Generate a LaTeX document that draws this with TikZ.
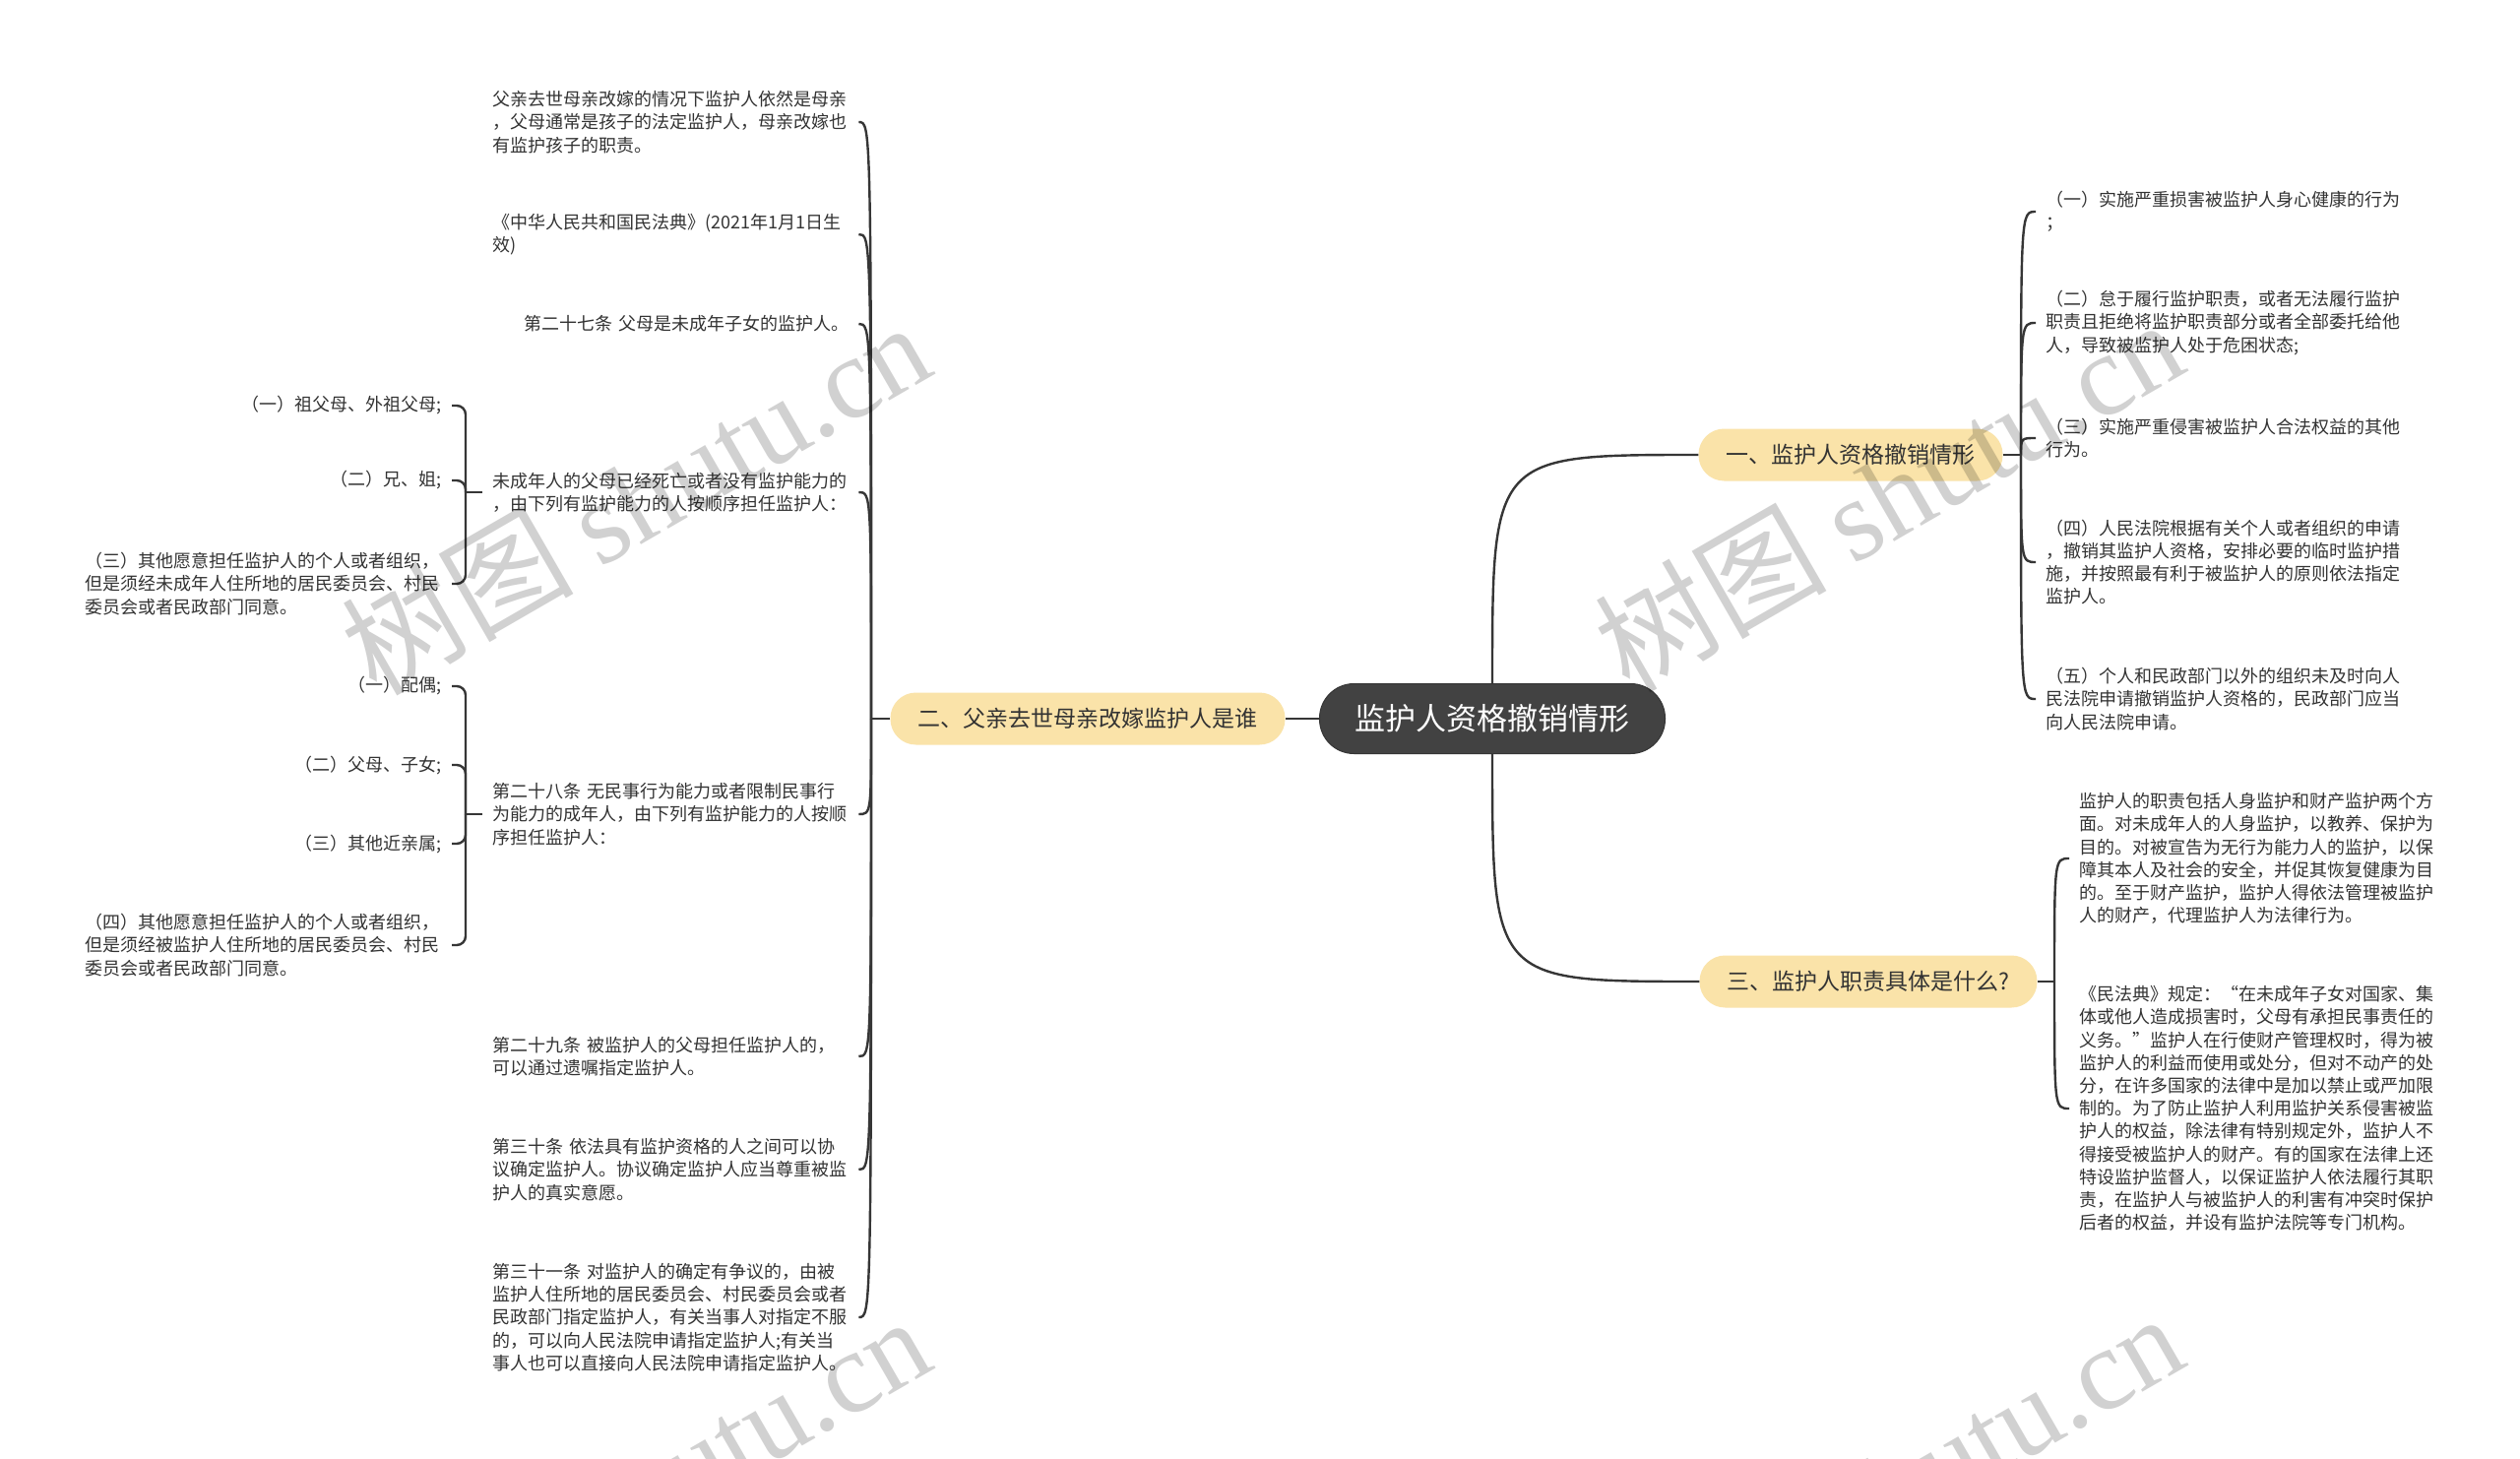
\documentclass[tikz,border=0pt]{standalone}
\usepackage{fontspec}
\setmainfont{Noto Sans CJK SC}
\newfontfamily\wmlatin{Liberation Serif}
\definecolor{txt}{HTML}{333333}
\definecolor{linec}{HTML}{363636}
\definecolor{pillc}{HTML}{FAE3A9}
\definecolor{rootc}{HTML}{424242}
\begin{document}
\begin{tikzpicture}[x=1pt,y=-1pt,
  leaf/.style={font=\fontsize{18}{23.2}\selectfont, text=txt, align=left, text width=362pt, inner sep=0pt},
  leafr/.style={leaf, align=right},
  pill/.style={fill=pillc, rounded corners=26pt, minimum height=53pt, inner xsep=28pt, inner ysep=0pt, font=\fontsize{23}{27}\selectfont, text=txt},
  rootbox/.style={fill=rootc, draw=rootc!80!black, line width=1pt, rounded corners=35pt, minimum height=71pt, inner xsep=36pt, font=\fontsize{31}{36}\selectfont, text=white},
  conn/.style={draw=linec, line width=2.4pt},
  wm/.style={text=black, text opacity=0.18, rotate=30, font=\fontsize{118}{120}\selectfont}
]
\fill[white] (0,0) rectangle (2560,1482);
\useasboundingbox (0,0) rectangle (2560,1482);

% main nodes
\node[rootbox] (root) at (1516,730) {监护人资格撤销情形};
\node[pill] (b1) at (1880,462) {一、监护人资格撤销情形};
\node[pill] (b2) at (1105,730) {二、父亲去世母亲改嫁监护人是谁};
\node[pill] (b3) at (1898,997) {三、监护人职责具体是什么?};

% left children
\node[leaf, anchor=west] (c1) at (500,124) {父亲去世母亲改嫁的情况下监护人依然是母亲\\，父母通常是孩子的法定监护人，母亲改嫁也\\有监护孩子的职责。};
\node[leaf, anchor=west] (c2) at (500,238) {《中华人民共和国民法典》(2021年1月1日生\\效)};
\node[leafr, anchor=west] (c3) at (500,329) {第二十七条 父母是未成年子女的监护人。};
\node[leaf, anchor=west] (c4) at (500,500) {未成年人的父母已经死亡或者没有监护能力的\\，由下列有监护能力的人按顺序担任监护人：};
\node[leaf, anchor=west] (c5) at (500,827) {第二十八条 无民事行为能力或者限制民事行\\为能力的成年人，由下列有监护能力的人按顺\\序担任监护人：};
\node[leaf, anchor=west] (c6) at (500,1073) {第二十九条 被监护人的父母担任监护人的，\\可以通过遗嘱指定监护人。};
\node[leaf, anchor=west] (c7) at (500,1188) {第三十条 依法具有监护资格的人之间可以协\\议确定监护人。协议确定监护人应当尊重被监\\护人的真实意愿。};
\node[leaf, anchor=west] (c8) at (500,1338) {第三十一条 对监护人的确定有争议的，由被\\监护人住所地的居民委员会、村民委员会或者\\民政部门指定监护人，有关当事人对指定不服\\的，可以向人民法院申请指定监护人;有关当\\事人也可以直接向人民法院申请指定监护人。};

% grandchildren of c4
\node[leafr, anchor=east] (g1) at (449,412) {（一）祖父母、外祖父母;};
\node[leafr, anchor=east] (g2) at (449,488) {（二）兄、姐;};
\node[leaf, anchor=east] (g3) at (449,593) {（三）其他愿意担任监护人的个人或者组织，\\但是须经未成年人住所地的居民委员会、村民\\委员会或者民政部门同意。};
% grandchildren of c5
\node[leafr, anchor=east] (g4) at (449,697) {（一）配偶;};
\node[leafr, anchor=east] (g5) at (449,777) {（二）父母、子女;};
\node[leafr, anchor=east] (g6) at (449,857) {（三）其他近亲属;};
\node[leaf, anchor=east] (g7) at (449,960) {（四）其他愿意担任监护人的个人或者组织，\\但是须经被监护人住所地的居民委员会、村民\\委员会或者民政部门同意。};

% branch 1 children
\node[leaf, anchor=west] (r1) at (2078,215) {（一）实施严重损害被监护人身心健康的行为\\；};
\node[leaf, anchor=west] (r2) at (2078,328) {（二）怠于履行监护职责，或者无法履行监护\\职责且拒绝将监护职责部分或者全部委托给他\\人，导致被监护人处于危困状态;};
\node[leaf, anchor=west] (r3) at (2078,445) {（三）实施严重侵害被监护人合法权益的其他\\行为。};
\node[leaf, anchor=west] (r4) at (2078,571) {（四）人民法院根据有关个人或者组织的申请\\，撤销其监护人资格，安排必要的临时监护措\\施，并按照最有利于被监护人的原则依法指定\\监护人。};
\node[leaf, anchor=west] (r5) at (2078,710) {（五）个人和民政部门以外的组织未及时向人\\民法院申请撤销监护人资格的，民政部门应当\\向人民法院申请。};

% branch 3 children
\node[leaf, anchor=west] (s1) at (2112,872) {监护人的职责包括人身监护和财产监护两个方\\面。对未成年人的人身监护，以教养、保护为\\目的。对被宣告为无行为能力人的监护，以保\\障其本人及社会的安全，并促其恢复健康为目\\的。至于财产监护，监护人得依法管理被监护\\人的财产，代理监护人为法律行为。};
\node[leaf, anchor=west] (s2) at (2112,1126) {《民法典》规定：“在未成年子女对国家、集\\体或他人造成损害时，父母有承担民事责任的\\义务。”监护人在行使财产管理权时，得为被\\监护人的利益而使用或处分，但对不动产的处\\分，在许多国家的法律中是加以禁止或严加限\\制的。为了防止监护人利用监护关系侵害被监\\护人的权益，除法律有特别规定外，监护人不\\得接受被监护人的财产。有的国家在法律上还\\特设监护监督人，以保证监护人依法履行其职\\责，在监护人与被监护人的利害有冲突时保护\\后者的权益，并设有监护法院等专门机构。};

% root connectors
\draw[conn] (root.west) -- (b2.east);
\draw[conn] (root.north) .. controls (root.north |- b1.west) .. (b1.west);
\draw[conn] (root.south) .. controls (root.south |- b3.west) .. (b3.west);

% branch 2 bracket
\coordinate (j2) at (885,730);
\draw[conn] (b2.west) -- (j2);
\foreach \c in {c1,c2,c3,c4,c5,c6,c7,c8}
  \draw[conn] (j2) .. controls (j2 |- \c.east) and (j2 |- \c.east) .. ([xshift=10pt]\c.east);

% branch 1 bracket
\coordinate (j1) at (2053,462);
\draw[conn] (b1.east) -- (j1);
\foreach \c in {r1,r2,r3,r4,r5}
  \draw[conn] (j1) .. controls (j1 |- \c.west) and (j1 |- \c.west) .. ([xshift=-10pt]\c.west);

% branch 3 bracket
\coordinate (j3) at (2087,997);
\draw[conn] (b3.east) -- (j3);
\foreach \c in {s1,s2}
  \draw[conn] (j3) .. controls (j3 |- \c.west) and (j3 |- \c.west) .. ([xshift=-10pt]\c.west);

% grandchildren brackets
\coordinate (k4) at (473,500);
\draw[conn] ([xshift=-10pt]c4.west) -- (k4);
\foreach \g in {g1,g2,g3}
  \draw[conn, rounded corners=9pt] (k4) -- (k4 |- \g.east) -- ([xshift=10pt]\g.east);
\coordinate (k5) at (473,827);
\draw[conn] ([xshift=-10pt]c5.west) -- (k5);
\foreach \g in {g4,g5,g6,g7}
  \draw[conn, rounded corners=9pt] (k5) -- (k5 |- \g.east) -- ([xshift=10pt]\g.east);

% watermarks
\begin{scope}
\clip (0,0) rectangle (2560,1482);
\foreach \p in {(645,505),(1918,502),(645,1515),(1918,1512)}
  \node[wm] at \p {树图 {\wmlatin shutu.cn}};
\end{scope}
\end{tikzpicture}
\end{document}
